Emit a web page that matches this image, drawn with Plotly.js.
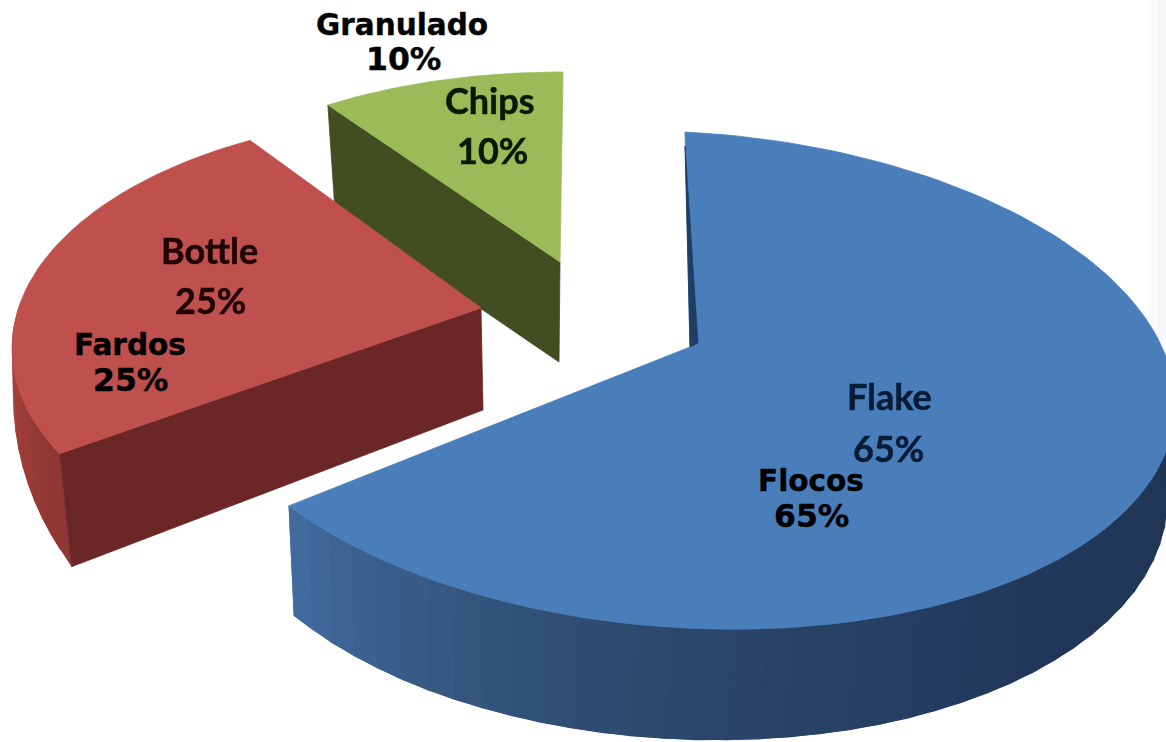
<!DOCTYPE html>
<html>
<head>
<meta charset="utf-8">
<script src="https://cdn.plot.ly/plotly-3.0.1.min.js"></script>
<style>html,body{margin:0;padding:0;background:#fff}#chart{width:1166px;height:742px}</style>
</head>
<body>
<div id="chart"></div>
<script>
// Data
const categories = ["Flocos", "Fardos", "Granulado"];
const originalCategories = ["Flake", "Bottle", "Chips"];
const shares = [65, 25, 10];

// Slice appearance: projected ellipse of the top rim and bottom rim
const flakeGeo = {top:{cx:685,cy:380,rx:490,ry:248,k:0.05}, bottom:{cx:690,cy:485,rx:478,ry:255,k:0.03}, start:0, apex:[690,347]};
const bottleGeo = {top:{cx:448,cy:348,rx:436,ry:233,k:0}, bottom:{cx:480,cy:397,rx:467,ry:350,k:0}, start:243, apex:[481,308], apexB:[483,410]};
const chipsGeo = {top:{cx:563,cy:245,rx:400,ry:173,k:0}, start:324, apex:[560,262], apexB:[559,362]};

const faceColors = ["#4A7EBB", "#C0504D", "#9BBB59"];

function rim(e, deg) {
  const t = deg * Math.PI / 180;
  const dx = e.rx * Math.sin(t);
  return [e.cx + dx, e.cy - e.ry * Math.cos(t) + e.k * dx];
}
function arc(e, a, b, n) {
  const out = [];
  for (let i = 0; i <= n; i++) out.push(rim(e, a + (b - a) * i / n));
  return out;
}
function hex(c){return [1,3,5].map(i=>parseInt(c.substr(i,2),16));}
function mix(stops, t) {
  for (let i = 1; i < stops.length; i++) {
    if (t <= stops[i][0]) {
      const f = (t - stops[i-1][0]) / (stops[i][0] - stops[i-1][0]);
      const A = hex(stops[i-1][1]), B = hex(stops[i][1]);
      return "rgb(" + A.map((v,j)=>Math.round(v+(B[j]-v)*f)).join(",") + ")";
    }
  }
  return stops[stops.length-1][1];
}
function poly(pts, color, w) {
  return {type:"scatter", mode:"lines", x:pts.map(p=>p[0]).concat(pts[0][0]), y:pts.map(p=>p[1]).concat(pts[0][1]),
    fill:"toself", fillcolor:color, line:{color:color,width:w===undefined?0.8:w}, hoverinfo:"skip", showlegend:false};
}
const traces = [];

// Chips slice (furthest back)
{
  const g = chipsGeo, span = shares[2] * 3.6;
  const c0 = rim(g.top, g.start);
  traces.push(poly([c0, g.apex, g.apexB, [c0[0]+7, c0[1]+104]], "#424D21"));
  traces.push(poly(arc(g.top, g.start, g.start + span, 30).concat([g.apex]), faceColors[2]));
}
// Bottle slice
{
  const g = bottleGeo, span = shares[1] * 3.6;
  const a0 = 241, a1 = 282, n = 14;
  const corner = rim(g.bottom, a0);
  const stops = [[0,"#8E3633"],[0.5,"#A3403D"],[1,"#B34A47"]];
  // outer wall: painted from the far end so each strip overlaps its neighbour
  for (let i = n - 1; i >= 0; i--) {
    const a = a0 + (a1-a0)*i/n, b = a0 + (a1-a0)*(i+2)/n;
    const ta = g.start + 36*i/n, tb = g.start + 36*(i+2)/n;
    traces.push(poly([rim(g.top,ta), rim(g.top,tb), rim(g.bottom,b), rim(g.bottom,a)], mix(stops,(i+0.5)/n), 0));
  }
  traces.push(poly([rim(g.top,g.start), g.apex, g.apexB, corner], "#6B2726"));
  traces.push(poly(arc(g.top, g.start, g.start + span, 50).concat([g.apex]), faceColors[1]));
}
// Flake slice (front)
{
  const g = flakeGeo, span = shares[0] * 3.6;
  const stops = [[0,"#1F3552"],[0.35,"#20385A"],[0.65,"#2C486D"],[0.82,"#35567F"],[1,"#426C9F"]];
  const n = 40, a0 = 85, a1 = g.start + span;
  for (let i = 0; i < n; i++) {
    const a = a0 + (a1-a0)*i/n, b = a0 + (a1-a0)*Math.min(i+2,n)/n;
    const ba = a0 + (a1+2-a0)*i/n, bb = a0 + (a1+2-a0)*Math.min(i+2,n)/n;
    traces.push(poly([rim(g.top,a), rim(g.top,b), rim(g.bottom,bb), rim(g.bottom,ba)], mix(stops,(i+0.5)/n), 0));
  }
  const c0 = rim(g.top, g.start);
  traces.push(poly(arc(g.top, g.start, g.start + span, 150).concat([g.apex]), faceColors[0]));
  traces.push(poly([[c0[0], c0[1]+14], g.apex, [g.apex[0]+8, g.apex[1]-4]], "#1F3E66"));
}

// Labels
const wordFont = c => ({family:"'DejaVu Sans', Verdana, sans-serif", size:29.5, color:c});
const pctFont = c => ({family:"'DejaVu Sans', Verdana, sans-serif", size:31.5, color:c});
const softFont = c => ({family:"Lato, sans-serif", size:36, color:c});
function label(x, y, text, font) {
  return {xref:"x", yref:"y", x:x, y:y, text:text, showarrow:false, font:font, xanchor:"center", yanchor:"middle"};
}
const annotations = [
  label(402, 25, "<b>" + categories[2] + "</b>", wordFont("#000")),
  label(403, 59, "<b>" + shares[2] + "%</b>", pctFont("#000")),
  label(130, 345, "<b>" + categories[1] + "</b>", wordFont("#000")),
  label(130, 380, "<b>" + shares[1] + "%</b>", pctFont("#000")),
  label(811, 481, "<b>" + categories[0] + "</b>", wordFont("#000")),
  label(811, 516, "<b>" + shares[0] + "%</b>", pctFont("#000")),
  label(490, 100, "<b>" + originalCategories[2] + "</b>", softFont("#0A1806")),
  label(492, 150, "<b>" + shares[2] + "%</b>", softFont("#0A1806")),
  label(209, 250, "<b>" + originalCategories[1] + "</b>", softFont("#200404")),
  label(210, 300, "<b>" + shares[1] + "%</b>", softFont("#200404")),
  label(889, 396, "<b>" + originalCategories[0] + "</b>", softFont("#081C38")),
  label(888, 448, "<b>" + shares[0] + "%</b>", softFont("#081C38"))
];

const layout = {
  width:1166, height:742, margin:{l:0,r:0,t:0,b:0,pad:0},
  paper_bgcolor:"#fff", plot_bgcolor:"rgba(0,0,0,0)", showlegend:false,
  xaxis:{range:[0,1166], visible:false, fixedrange:true},
  yaxis:{range:[742,0], visible:false, fixedrange:true},
  shapes:[
    {type:"rect", layer:"below", xref:"x", yref:"y", x0:1148, x1:1166, y0:0, y1:340, fillcolor:"#FBFBFB", line:{width:0}},
    {type:"rect", layer:"below", xref:"x", yref:"y", x0:1157, x1:1166, y0:0, y1:340, fillcolor:"#F6F6F6", line:{width:0}}
  ],
  annotations:annotations
};
Plotly.newPlot("chart", traces, layout, {displayModeBar:false, staticPlot:true}).then(() => {
  document.querySelectorAll(".annotation").forEach((el, i) => {
    const t = el.querySelector("text");
    if (i >= 6) {
      el.style.filter = "blur(0.7px)";
      if (t) { t.style.stroke = t.style.fill; t.style.strokeWidth = "0.5px"; }
    } else if (t) {
      t.style.stroke = t.style.fill; t.style.strokeWidth = "0.4px";
    }
  });
});
</script>
</body>
</html>
